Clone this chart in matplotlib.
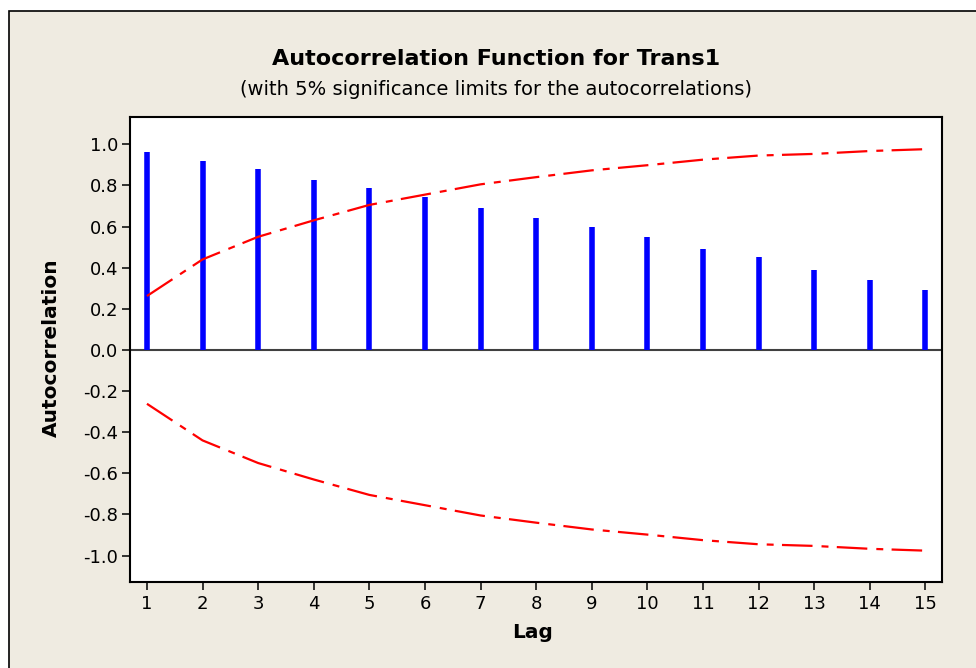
import matplotlib
matplotlib.use("Agg")
import matplotlib.pyplot as plt
from matplotlib.patches import Rectangle

lags = list(range(1, 16))
acf = [0.961, 0.920, 0.878, 0.828, 0.786, 0.742, 0.692, 0.642, 0.600, 0.549,
       0.491, 0.451, 0.390, 0.339, 0.290]
upper = [0.262, 0.440, 0.550, 0.630, 0.705, 0.755, 0.805, 0.840, 0.873, 0.898,
         0.925, 0.945, 0.953, 0.967, 0.976]
lower = [-v for v in upper]
yticks = [1.0, 0.8, 0.6, 0.4, 0.2, 0.0, -0.2, -0.4, -0.6, -0.8, -1.0]

plt.rcParams['font.family'] = ['DejaVu Sans']
plt.rcParams['lines.scale_dashes'] = False

W, H = 976, 668
fig = plt.figure(figsize=(W / 100, H / 100), dpi=100, facecolor='white')
bg = Rectangle((8.5 / W, 0 - 20 / H), (W + 20) / W, (H - 10.5 + 20) / H,
               transform=fig.transFigure, facecolor='#EFEBE1', edgecolor='black',
               linewidth=1.2, zorder=-10, clip_on=False)
fig.patches.append(bg)

ax = fig.add_axes([130 / W, 1 - 581.7 / H, (942 - 130) / W, (581.7 - 117.3) / H])
ax.set_facecolor('white')

ax.axhline(0, color='#404040', linewidth=1.5, zorder=1)
ax.vlines(lags, 0, acf, colors='#0000FF', linewidth=4.0, capstyle='butt', zorder=2)
dash = (0, (22, 6.5, 5, 6))
ax.plot(lags, upper, color='#FF0000', linewidth=1.6, linestyle=dash, zorder=3)
ax.plot(lags, lower, color='#FF0000', linewidth=1.6, linestyle=dash, zorder=3)

ax.set_xlim(0.695, 15.3)
ax.set_ylim(-1.127, 1.131)
ax.set_xticks(lags)
ax.set_xticklabels([str(l) for l in lags])
ax.set_yticks(yticks)
ax.set_yticklabels([f"{v:.1f}" for v in yticks])

for s in ax.spines.values():
    s.set_linewidth(1.5)
    s.set_color('black')
ax.tick_params(axis='both', direction='out', length=5.5, width=1.1,
               labelsize=13, colors='black')
ax.tick_params(axis='y', pad=3)
ax.tick_params(axis='x', pad=4)

fig.text(496 / W, 1 - 65 / H, 'Autocorrelation Function for Trans1',
         ha='center', va='baseline', fontsize=16, fontweight='bold')
fig.text(496 / W, 1 - 95 / H,
         '(with 5% significance limits for the autocorrelations)',
         ha='center', va='baseline', fontsize=14)
fig.text(51 / W, 1 - 348 / H, 'Autocorrelation', rotation=90,
         ha='center', va='center', fontsize=14.5, fontweight='bold')
fig.text(533 / W, 1 - 632 / H, 'Lag', ha='center', va='center',
         fontsize=14.5, fontweight='bold')

fig.savefig('out.png', dpi=100, facecolor=fig.get_facecolor())
